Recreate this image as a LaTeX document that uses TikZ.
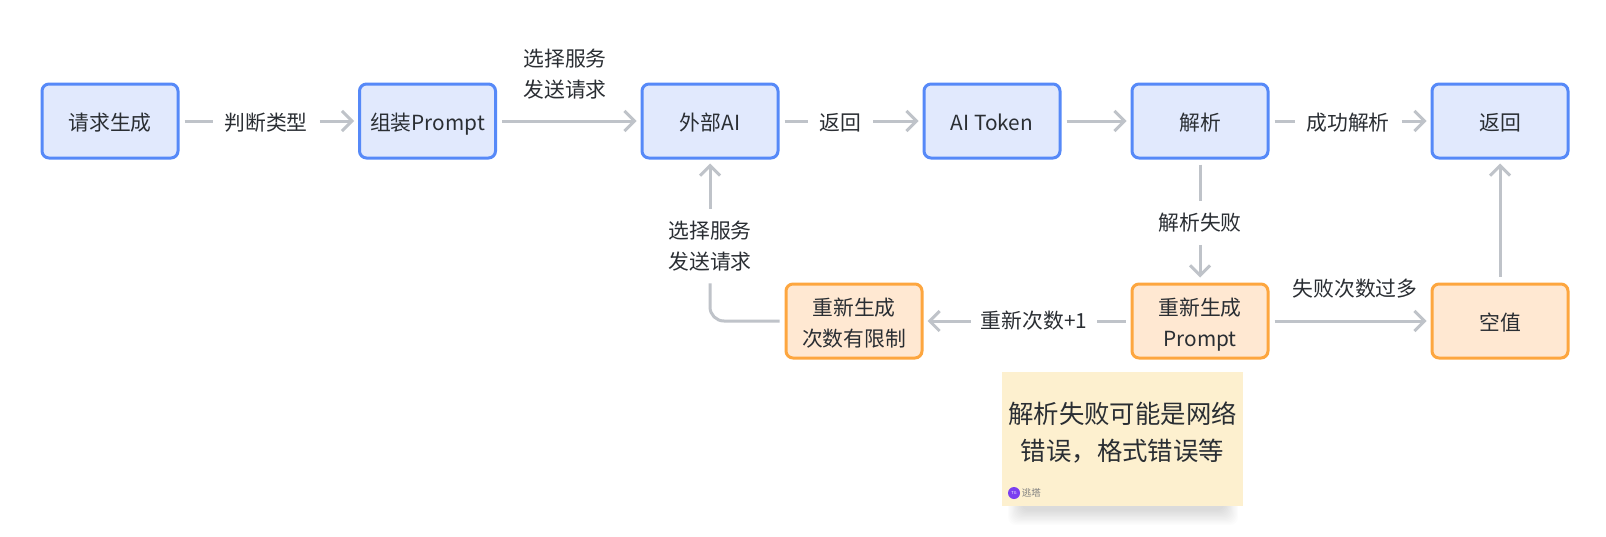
\documentclass[tikz,border=0pt]{standalone}
\usepackage{fontspec}
\setmainfont{Noto Sans CJK SC}
\usetikzlibrary{arrows.meta,positioning}
\definecolor{bluefill}{HTML}{E1E9FD}
\definecolor{blueline}{HTML}{5689F8}
\definecolor{orangefill}{HTML}{FFE8D2}
\definecolor{orangeline}{HTML}{FDA63F}
\definecolor{linegray}{HTML}{BFC3C9}
\definecolor{notefill}{HTML}{FDF0CF}
\definecolor{txt}{HTML}{2A2E33}
\definecolor{logopurple}{HTML}{7B3FF0}
\newcommand{\lowtext}[2][3pt]{\raisebox{-#1}[\height][\depth]{\begin{tabular}{@{}c@{}}#2\end{tabular}}}
\tikzset{
  x=1pt,y=-1pt,
  box/.style={rounded corners=7pt,line width=3pt,minimum width=136pt,minimum height=74pt,inner sep=0pt,align=center,font=\fontsize{20.8}{31}\selectfont,text=txt},
  bluebox/.style={box,draw=blueline,fill=bluefill},
  orangebox/.style={box,draw=orangeline,fill=orangefill},
  lab/.style={inner sep=0pt,align=center,font=\fontsize{20.8}{31}\selectfont,text=txt},
  conn/.style={draw=linegray,line width=3pt},
  arr/.style={conn,-{Straight Barb[length=10pt,width=20pt,line width=3pt]}},
}
\begin{document}
\begin{tikzpicture}
\useasboundingbox (0,0) rectangle (1606,536);
\fill[white] (0,0) rectangle (1606,536);
% nodes
\node[bluebox] (a) at (110,121) {\lowtext{请求生成}};
\node[bluebox] (b) at (427.5,121) {\lowtext{组装Prompt}};
\node[bluebox] (c) at (710,121) {\lowtext{外部AI}};
\node[bluebox] (d) at (992,121) {\lowtext{AI Token}};
\node[bluebox] (e) at (1200,121) {\lowtext{解析}};
\node[bluebox] (f) at (1500,121) {\lowtext{返回}};
\node[orangebox] (g) at (854,321) {\lowtext[4pt]{重新生成\\次数有限制}};
\node[orangebox] (h) at (1200,321) {\lowtext[4pt]{重新生成\\Prompt}};
\node[orangebox] (i) at (1500,321) {\lowtext{空值}};
% labels
\node[lab] (l1) at (266,121) {\lowtext{判断类型}};
\node[lab] (l2) at (565,74) {选择服务\\发送请求};
\node[lab] (l3) at (840,121) {\lowtext{返回}};
\node[lab] (l4) at (1348,121) {\lowtext{成功解析}};
\node[lab] (l5) at (1200,223) {解析失败};
\node[lab] (l6) at (1034,321) {\lowtext[1pt]{重新次数+1}};
\node[lab] (l7) at (1355,289) {失败次数过多};
\node[lab] (l8) at (710,246) {选择服务\\发送请求};
% connectors
\draw[conn] ([xshift=5pt]a.east) -- ([xshift=-11pt]l1.west);
\draw[arr] ([xshift=12pt]l1.east) -- ([xshift=-4pt]b.west);
\draw[arr] ([xshift=5pt]b.east) -- ([xshift=-4pt]c.west);
\draw[conn] ([xshift=5pt]c.east) -- ([xshift=-11pt]l3.west);
\draw[arr] ([xshift=12pt]l3.east) -- ([xshift=-4pt]d.west);
\draw[arr] ([xshift=5pt]d.east) -- ([xshift=-4pt]e.west);
\draw[conn] ([xshift=5pt]e.east) -- ([xshift=-11pt]l4.west);
\draw[arr] ([xshift=12pt]l4.east) -- ([xshift=-4pt]f.west);
\draw[conn] ([yshift=-5pt]e.south) -- ([yshift=12pt]l5.north);
\draw[arr] ([yshift=-12pt]l5.south) -- ([yshift=5pt]h.north);
\draw[conn] ([xshift=-5pt]h.west) -- ([xshift=10pt]l6.east);
\draw[arr] ([xshift=-10pt]l6.west) -- ([xshift=4pt]g.east);
\draw[arr] ([xshift=5pt]h.east) -- ([xshift=-4pt]i.west);
\draw[arr] ([yshift=6pt]i.north) -- ([yshift=-4pt]f.south);
\draw[conn,rounded corners=14pt] ([xshift=-5pt]g.west) -| ([yshift=-12pt]l8.south);
\draw[arr] ([yshift=12pt]l8.north) -- ([yshift=-4pt]c.south);
% note shadow
\foreach \k in {0,...,11}{
  \fill[black,opacity=0.011,rounded corners=8pt]
    ({1008+\k*1.2},{480}) rectangle ({1238-\k*1.2},{525-\k*1.3});
}
% note
\node[fill=notefill,minimum width=241pt,minimum height=134pt,inner sep=0pt] (n) at (1122.5,439) {};
\node[lab,font=\fontsize{25.4}{37}\selectfont,text=txt] (nt) at (1122.5,433) {解析失败可能是网络\\错误，格式错误等};
\node[circle,fill=logopurple,minimum size=12pt,inner sep=0pt,text=white,font=\fontsize{4}{4}\selectfont] (logo) at (1014,493) {TG};
\node[right=1.5pt of logo,inner sep=0pt,font=\fontsize{9.5}{9.5}\selectfont,text=gray] (lt) {逃塔};
\end{tikzpicture}
\end{document}
